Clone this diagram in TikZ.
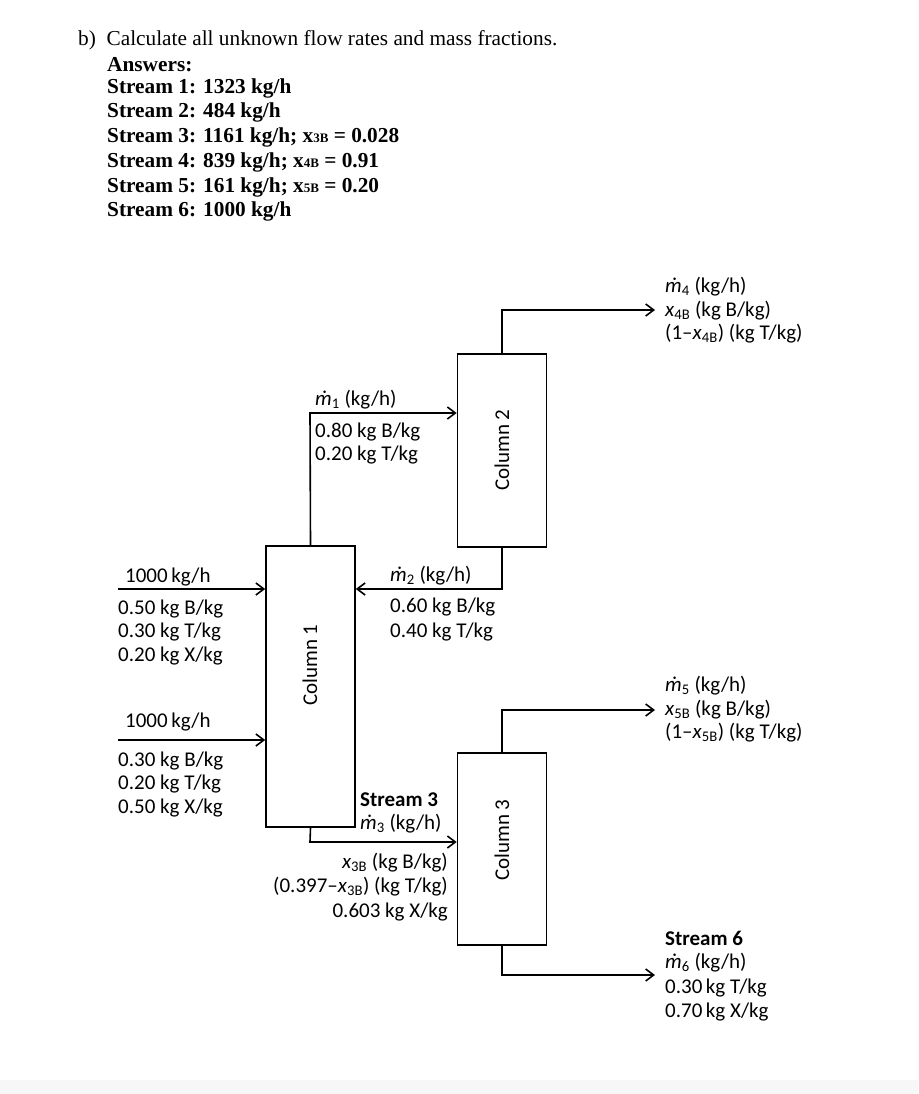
\documentclass[tikz,border=0pt]{standalone}
\usepackage{fontspec}
\setmainfont{Carlito}
\newfontfamily\tms{Liberation Serif}
\usetikzlibrary{arrows.meta}
\begin{document}
\begin{tikzpicture}[x=1pt,y=-1pt,
 hd/.style={anchor=west,inner sep=0,font=\tms\fontsize{21.3}{24}\selectfont},
 lb/.style={anchor=west,inner sep=0,font=\fontsize{21}{24}\selectfont},
 lbr/.style={anchor=east,inner sep=0,font=\fontsize{21}{24}\selectfont},
 col/.style={draw,line width=1.6pt,inner sep=0,minimum width=89pt},
 ar/.style={line width=1.6pt,-{Straight Barb[length=8pt,width=12pt]}}]
\useasboundingbox (0,0) rectangle (918,1094);
\fill[gray!6] (0,1080) rectangle (918,1094);
\newcommand{\md}[1]{\textit{ṁ}\textsubscript{#1}}
\newcommand{\xs}[1]{\textit{x}\textsubscript{#1}}
\newcommand{\hx}[1]{x{\fontsize{13}{13}\selectfont #1}}
% header
\node[hd] (h0) at (78,40) {b)\ \ Calculate all unknown flow rates and mass fractions.};
\node[hd] (h1) at (107,65) {\bfseries Answers:};
\node[hd] (h2) at (107,88) {\bfseries Stream 1: 1323 kg/h};
\node[hd] (h3) at (107,112) {\bfseries Stream 2: 484 kg/h};
\node[hd] (h4) at (107,137) {\bfseries Stream 3: 1161 kg/h; \hx{3B} = 0.028};
\node[hd] (h5) at (107,162) {\bfseries Stream 4: 839 kg/h; \hx{4B} = 0.91};
\node[hd] (h6) at (107,187) {\bfseries Stream 5: 161 kg/h; \hx{5B} = 0.20};
\node[hd] (h7) at (107,211) {\bfseries Stream 6: 1000 kg/h};
% columns
\node[col,minimum height=281pt] (c1) at (310.5,686.5) {};
\node[rotate=90,font=\fontsize{21}{24}\selectfont] (c1l) at (310,665) {Column 1};
\node[col,minimum height=193pt] (c2) at (502,450.5) {};
\node[rotate=90,font=\fontsize{21}{24}\selectfont] (c2l) at (502,450) {Column 2};
\node[col,minimum height=192pt] (c3) at (502,849) {};
\node[rotate=90,font=\fontsize{21}{24}\selectfont] (c3l) at (502,840) {Column 3};
% feeds
\coordinate (f1) at (118,589);
\coordinate (f2) at (118,740);
\draw[ar] (f1) -- (f1 -| c1.west);
\draw[ar] (f2) -- (f2 -| c1.west);
\node[lb] (f1a) at (125,577) {1000\,kg/h};
\node[lb] (f1b) at (118,609) {0.50 kg B/kg};
\node[lb] (f1c) at (118,632) {0.30 kg T/kg};
\node[lb] (f1d) at (118,656) {0.20 kg X/kg};
\node[lb] (f2a) at (125,722) {1000\,kg/h};
\node[lb] (f2b) at (118,761) {0.30 kg B/kg};
\node[lb] (f2c) at (118,784) {0.20 kg T/kg};
\node[lb] (f2d) at (118,808) {0.50 kg X/kg};
% stream 1
\coordinate (b1) at (310,413);
\draw[ar] (c1.north) -- (b1) -- (b1 -| c2.west);
\node[lb] (s1a) at (315,400) {\md{1} (kg/h)};
\node[lb] (s1b) at (315,432) {0.80 kg B/kg};
\node[lb] (s1c) at (315,455) {0.20 kg T/kg};
% stream 2
\coordinate (b2) at (502,589);
\draw[ar] (c2.south) -- (b2) -- (b2 -| c1.east);
\node[lb] (s2a) at (390,576) {\md{2} (kg/h)};
\node[lb] (s2b) at (390,607) {0.60 kg B/kg};
\node[lb] (s2c) at (390,632) {0.40 kg T/kg};
% stream 3
\coordinate (b3) at (310,842);
\draw[ar] (c1.south) -- (b3) -- (b3 -| c3.west);
\node[lb] (s3a) at (360,800) {\bfseries Stream 3};
\node[lb] (s3b) at (360,824) {\md{3} (kg/h)};
\node[lbr] (s3c) at (448,863) {\xs{3B} (kg B/kg)};
\node[lbr] (s3d) at (448,887) {(0.397–\xs{3B}) (kg T/kg)};
\node[lbr] (s3e) at (448,912) {0.603 kg X/kg};
% stream 4
\coordinate (b4) at (502,310);
\coordinate (e4) at (655,310);
\draw[ar] (c2.north) -- (b4) -- (e4);
\node[lb] (s4a) at (665,287) {\md{4} (kg/h)};
\node[lb] (s4b) at (665,311) {\xs{4B} (kg B/kg)};
\node[lb] (s4c) at (665,334) {(1–\xs{4B}) (kg T/kg)};
% stream 5
\coordinate (b5) at (502,710);
\coordinate (e5) at (655,710);
\draw[ar] (c3.north) -- (b5) -- (e5);
\node[lb] (s5a) at (665,686) {\md{5} (kg/h)};
\node[lb] (s5b) at (665,710) {\xs{5B} (kg B/kg)};
\node[lb] (s5c) at (665,733) {(1–\xs{5B}) (kg T/kg)};
% stream 6
\coordinate (b6) at (502,975);
\coordinate (e6) at (655,975);
\draw[ar] (c3.south) -- (b6) -- (e6);
\node[lb] (s6a) at (665,938) {\bfseries Stream 6};
\node[lb] (s6b) at (665,963) {\md{6} (kg/h)};
\node[lb] (s6c) at (665,988) {0.30\,kg T/kg};
\node[lb] (s6d) at (665,1012) {0.70\,kg X/kg};
\end{tikzpicture}
\end{document}
